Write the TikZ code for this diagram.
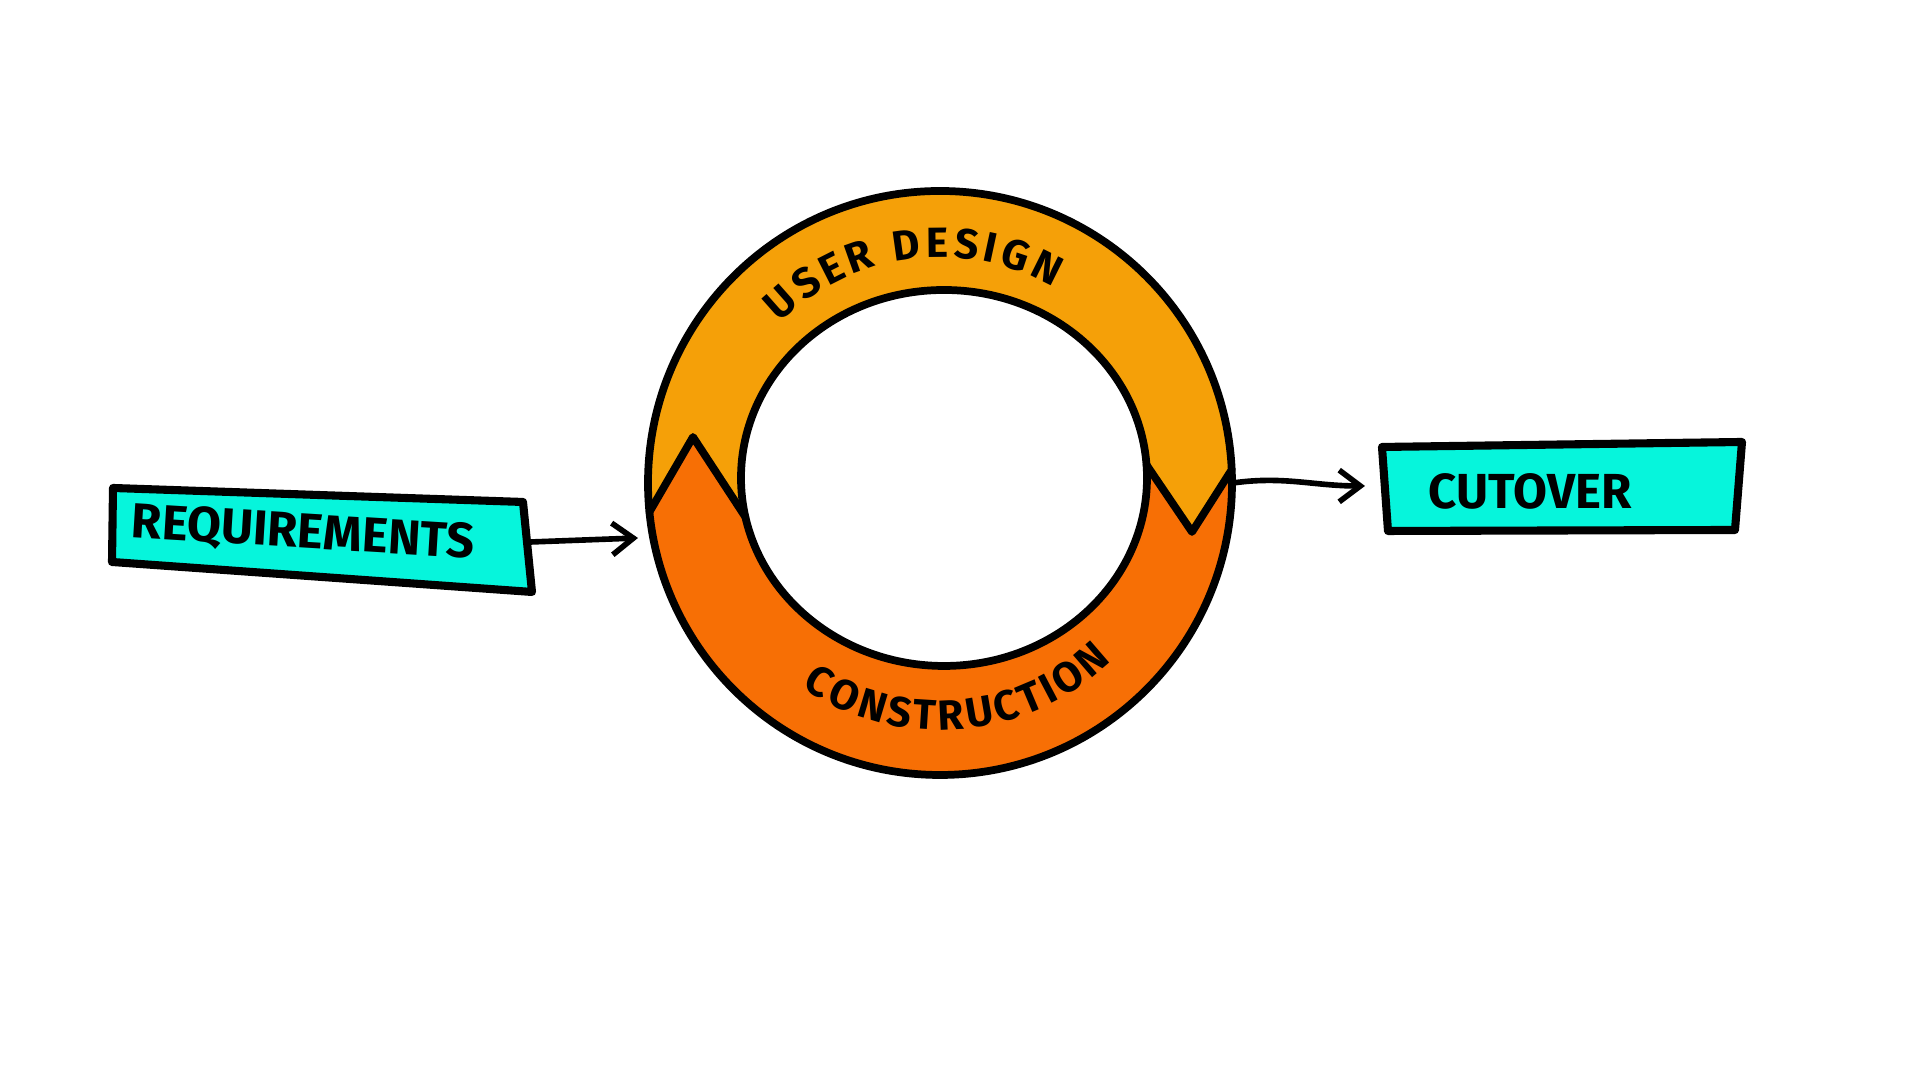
\documentclass[tikz,border=0pt]{standalone}
\usepackage{fontspec}
\setmainfont{Fira Sans}
\usetikzlibrary{arrows.meta,calc,decorations.text}
\definecolor{boxcyan}{RGB}{6,245,220}
\definecolor{ringyellow}{RGB}{245,160,8}
\definecolor{ringorange}{RGB}{247,111,5}

\begin{document}
\begin{tikzpicture}
  [x=0.01cm, y=0.01cm, line join=round, line cap=round,
   box/.style={draw, line width=2.3pt, fill=boxcyan},
   lbl/.style={font=\fontsize{14}{16}\selectfont\bfseries, inner sep=0pt},
   rim/.style={draw, line width=2.2pt},
   flow/.style={line width=1.6pt, -{Straight Barb[length=6pt, width=9pt, line width=1.6pt]}},
   arclbl/.style={decorate, decoration={text along path, text align=fit to path,
      text={|\fontsize{12}{14}\selectfont\bfseries|#1}}}]
  \useasboundingbox (0,0) rectangle (1920,1080);

  \coordinate (co) at (940,597);
  \coordinate (ci) at (944,602);
  \coordinate (L1) at ($(co)+(185.7:292)$);
  \coordinate (L2) at (693,643);
  \coordinate (L3) at ($(ci)+(192:203 and 188)$);
  \coordinate (R1) at ($(ci)+(4:203 and 188)$);
  \coordinate (R2) at (1192,548);
  \coordinate (R3) at ($(co)+(2.6:292)$);

  \fill[ringyellow, even odd rule] (co) circle[radius=292] (ci) circle[x radius=203, y radius=188];
  \fill[ringorange] (L2) -- (L3) arc[start angle=192, end angle=364, x radius=203, y radius=188]
    -- (R2) -- (R3) arc[start angle=362.6, end angle=185.7, radius=292] -- cycle;
  \draw[rim] (co) circle[radius=292];
  \draw[rim] (ci) circle[x radius=203, y radius=188];
  \draw[rim] (L1) -- (L2) -- (L3);
  \draw[rim] (R1) -- (R2) -- (R3);

  \coordinate (ts) at ($(co)+(135:226)$);
  \coordinate (bs) at ($(co)+(236:247)$);
  \path[arclbl={USER DESIGN}] (ts) arc[start angle=135, end angle=60, radius=226];
  \path[arclbl={CONSTRUCTION}] (bs) arc[start angle=236, end angle=314, radius=247];

  \filldraw[box] (113,592) -- (523,578) -- (532,488) -- (112,518) -- cycle;
  \node[lbl, rotate=-3.5] (req) at (303,546) {REQUIREMENTS};
  \filldraw[box] (1382,633) -- (1742,638) -- (1735,550) -- (1388,549) -- cycle;
  \node[lbl] (cut) at (1530,589) {CUTOVER};

  \coordinate (reqout) at (531,538);
  \coordinate (ringin) at (638,542);
  \coordinate (ringout) at (1233,597);
  \coordinate (cutin) at (1365,594);
  \draw[flow] (reqout) -- (ringin);
  \draw[flow] (ringout) to[out=8, in=180] (cutin);
\end{tikzpicture}
\end{document}
